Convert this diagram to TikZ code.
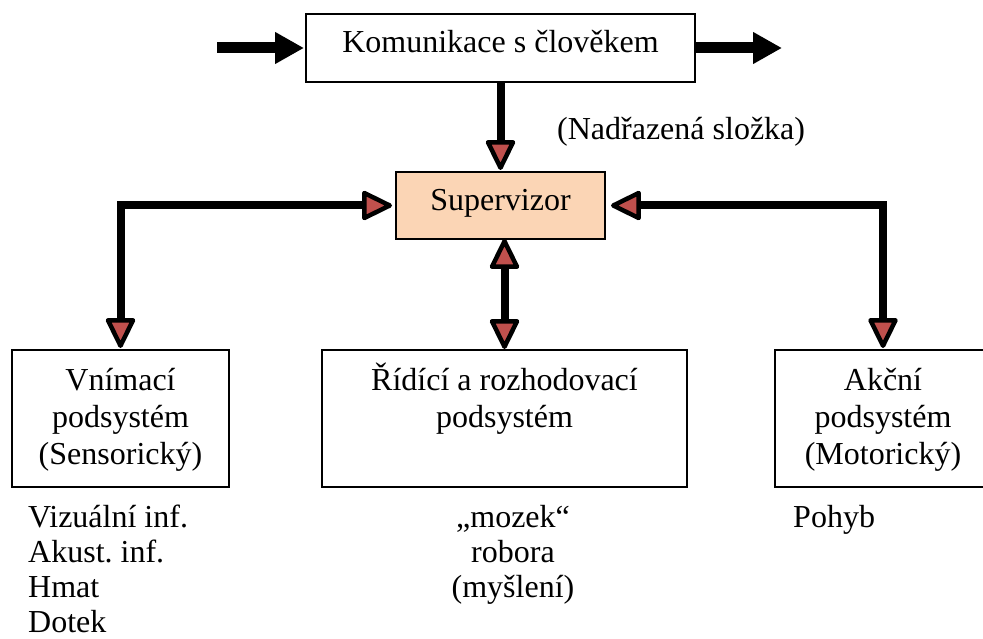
\documentclass[tikz,border=0pt]{standalone}
\usepackage{fontspec}
\setmainfont{Liberation Serif}
\frenchspacing
\usetikzlibrary{arrows.meta}
\definecolor{tipred}{RGB}{192,80,77}
\definecolor{peach}{RGB}{251,213,181}
\begin{document}
\begin{tikzpicture}[x=1pt,y=-1pt,
  box/.style={draw=black,line width=2pt,inner sep=0pt,outer sep=0pt},
  txt/.style={font=\fontsize{32pt}{37pt}\selectfont,inner sep=0pt},
  listtxt/.style={font=\fontsize{32pt}{35pt}\selectfont,inner sep=0pt},
  redtip/.tip={Triangle[length=33pt,width=31pt,fill=tipred,color=black,line width=4.5pt,round]},
  link/.style={line width=8pt,line join=miter},
  feed/.style={line width=11pt,-{Triangle[length=29pt,width=30pt]}}]
\useasboundingbox (0,0) rectangle (983,639);

% boxes
\node[box,minimum width=389pt,minimum height=68pt] (kom) at (500.5,48) {};
\node[box,fill=peach,minimum width=209pt,minimum height=67pt] (sup) at (500.5,205.5) {};
\node[box,minimum width=217pt,minimum height=137pt] (vni) at (120.5,418.5) {};
\node[box,minimum width=365pt,minimum height=137pt] (rid) at (504.5,418.5) {};
\node[box,minimum width=216pt,minimum height=137pt] (akc) at (883,418.5) {};

% box captions (multi-line nodes sit on the baseline of their last line)
\node[txt,anchor=base] (komtxt) at (500.5,53) {Komunikace s člověkem};
\node[txt,anchor=base] (suptxt) at (500.5,211) {Supervizor};
\node[txt,anchor=base,align=center] (vnitxt) at (120.5,464) {Vnímací\\podsystém\\(Sensorický)};
\node[txt,anchor=base,align=center] (ridtxt) at (504.5,427) {Řídící a rozhodovací\\podsystém};
\node[txt,anchor=base,align=center] (akctxt) at (883,464) {Akční\\podsystém\\(Motorický)};

% free labels
\node[txt,anchor=base west] (nadr) at (557,140) {(Nadřazená složka)};
\node[listtxt,anchor=base west,align=left] (vnilist) at (28,632) {Vizuální inf.\\Akust. inf.\\Hmat\\Dotek};
\node[listtxt,anchor=base,align=center] (ridlist) at (513,597) {„mozek“\\robora\\(myšlení)};
\node[listtxt,anchor=base west] (akclist) at (793,527) {Pohyb};

% input / output of the human interface
\coordinate (inL) at (217,48);
\coordinate (outR) at (782,48);
\draw[feed,shorten >=2pt] (inL) -- (kom.west);
\draw[feed] (kom.east) -- (outR);

% links around the supervisor
\draw[link,-{redtip},shorten >=2pt] (kom.south) -- (sup.north);
\draw[link,{redtip}-{redtip},shorten <=4pt,shorten >=2pt] (sup.west) -| (vni.north);
\draw[link,{redtip}-{redtip},shorten <=6pt,shorten >=2pt] (sup.east) -| (akc.north);
\draw[link,{redtip}-{redtip},shorten >=1pt] (rid.north |- sup.south) -- (rid.north);
\end{tikzpicture}
\end{document}
